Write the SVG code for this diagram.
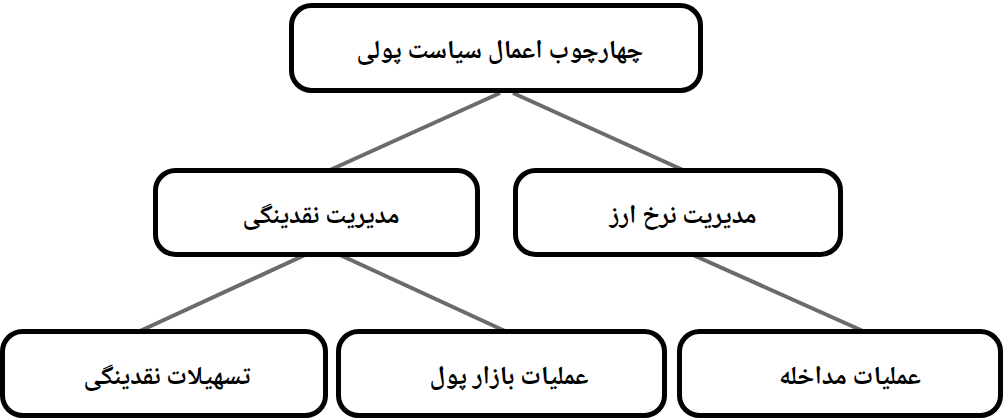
<svg xmlns="http://www.w3.org/2000/svg" width="1004" height="419" viewBox="0 0 1004 419">
<style>
.box{fill:#fff;stroke:#000;stroke-width:5}
.lbl{font-family:"Noto Naskh Arabic","Noto Sans Arabic","DejaVu Sans",sans-serif;font-size:26px;font-weight:bold;fill:#000;text-anchor:middle;direction:rtl}
.conn{stroke:#6b6b6b;stroke-width:4;fill:none}
</style>
<rect width="1004" height="419" fill="#fff"/>
<g id="connectors">
<line class="conn" x1="500" y1="93" x2="330" y2="170"/>
<line class="conn" x1="513" y1="93" x2="683" y2="170"/>
<line class="conn" x1="305" y1="255" x2="140" y2="331"/>
<line class="conn" x1="340" y1="255" x2="505" y2="331"/>
<line class="conn" x1="693" y1="255" x2="863" y2="331"/>
</g>
<g id="root">
<rect class="box" x="291.5" y="5.5" width="409" height="85" rx="20"/>
<text class="lbl" x="500" y="58">چهارچوب اعمال سیاست پولی</text>
</g>
<g id="liquidity">
<rect class="box" x="155.5" y="170.5" width="322" height="84" rx="20"/>
<text class="lbl" x="321" y="223">مدیریت نقدینگی</text>
</g>
<g id="fx">
<rect class="box" x="515.5" y="170.5" width="325" height="84" rx="20"/>
<text class="lbl" x="683" y="223">مدیریت نرخ ارز</text>
</g>
<g id="facilities">
<rect class="box" x="2.5" y="331.5" width="323" height="84" rx="20"/>
<text class="lbl" x="167" y="384">تسهیلات نقدینگی</text>
</g>
<g id="moneymarket">
<rect class="box" x="338.5" y="331.5" width="326" height="84" rx="20"/>
<text class="lbl" x="509" y="384">عملیات بازار پول</text>
</g>
<g id="intervention">
<rect class="box" x="679.5" y="331.5" width="321" height="84" rx="20"/>
<text class="lbl" x="850" y="384">عملیات مداخله</text>
</g>
</svg>
